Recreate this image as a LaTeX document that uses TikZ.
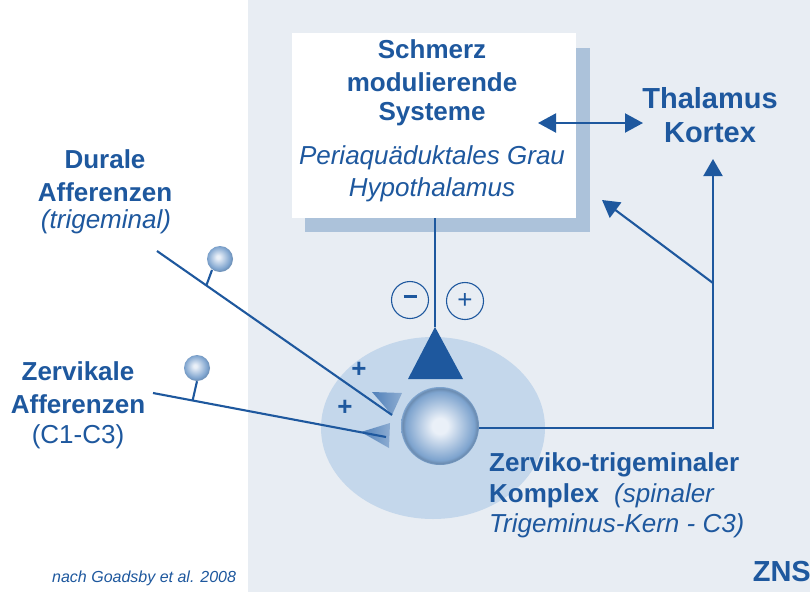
\documentclass[tikz,border=0pt]{standalone}
\usepackage{fontspec}
\setmainfont{Liberation Sans}
\usetikzlibrary{arrows.meta,calc}
\definecolor{tblue}{RGB}{30,88,158}
\definecolor{bgray}{RGB}{232,237,243}
\definecolor{shad}{RGB}{172,194,218}
\definecolor{ell}{RGB}{196,215,235}
\definecolor{midb}{RGB}{80,128,185}
\definecolor{sphc}{RGB}{234,240,248}
\definecolor{sphe}{RGB}{125,163,206}
\pgfdeclareradialshading{sphsh}{\pgfpoint{0bp}{0bp}}{color(0bp)=(sphc); color(5bp)=(sphc); color(22bp)=(sphe); color(24bp)=(sphe!85!black); color(25bp)=(sphe); color(50bp)=(sphe)}
\pgfdeclareradialshading{knobsh}{\pgfpoint{-4bp}{4bp}}{color(0bp)=(sphc); color(3bp)=(sphc); color(22bp)=(sphe); color(25bp)=(sphe!90!black); color(50bp)=(sphe)}
\begin{document}
\begin{tikzpicture}[x=1pt,y=-1pt,
  bt/.style={text=tblue,font=\fontsize{26}{33}\selectfont\bfseries,align=center,inner sep=0pt},
  it/.style={text=tblue,font=\fontsize{26}{33}\selectfont\itshape,align=center,inner sep=0pt},
  rt/.style={text=tblue,font=\fontsize{26}{33}\selectfont,align=center,inner sep=0pt},
  big/.style={text=tblue,font=\fontsize{29}{34}\selectfont\bfseries,align=center,inner sep=0pt},
  ln/.style={draw=tblue,line width=2.1pt},
  dbl/.style={ln,{Triangle[length=18pt,width=19pt]}-{Triangle[length=18pt,width=19pt]}},
  arr/.style={ln,-{Triangle[length=17pt,width=19pt]}},
  sign/.style={circle,draw=tblue,line width=1.1pt,minimum size=37pt,inner sep=0pt,text=tblue},
  knob/.style={circle,minimum size=26pt,inner sep=0pt,shading=knobsh}]
\useasboundingbox (0,0) rectangle (810,592);
\fill[white] (0,0) rectangle (810,592);
\fill[bgray] (248,0) rectangle (810,592);
% box shadow and box
\fill[shad] (305,48) rectangle (590,232);
\node[fill=white,minimum width=284pt,minimum height=185pt,inner sep=0pt] (box) at (434,125.5) {};
\node[bt] (s1) at (432,49) {Schmerz};
\node[bt] (s2) at (432,82) {modulierende};
\node[bt] (s3) at (432,114) {Systeme};
\node[it] (p1) at (432,158) {Periaquäduktales Grau};
\node[it] (p2) at (432,190) {Hypothalamus};
% thalamus
\node[big] (th) at (710,115) {Thalamus\\Kortex};
\coordinate (dl) at (538,123);
\coordinate (dr) at (643,123);
\draw[dbl] (dl) -- (dr);
% complex ellipse and sphere
\fill[ell] (433,428) ellipse[x radius=112,y radius=91];
\node[circle,minimum size=78pt,inner sep=0pt,shading=sphsh] (sph) at (440,426) {};
% descending line + big triangle
\coordinate (tapex) at (435,327);
\fill[tblue] (tapex) -- (463,379) -- (408,379) -- cycle;
\draw[ln] (box.south -| tapex) -- (tapex);
\node[sign] (minus) at (410,300) {\rule[7pt]{13pt}{3.4pt}};
\node[sign] (plus) at (465,301) {\fontsize{26}{26}\selectfont +};
% ascending lines
\coordinate (c1) at (713,428);
\coordinate (c2) at (713,283);
\coordinate (up) at (713,159);
\coordinate (diag) at (602,200);
\draw[ln] (sph.east |- c1) -- (c1) -- (c2);
\draw[arr] (c2) -- (up);
\draw[arr] (c2) -- (diag);
% afferents
\node[bt] (du) at (105,176) {Durale\\Afferenzen};
\node[it] (tr) at (106,222) {(trigeminal)};
\node[bt] (ze) at (78,388) {Zervikale\\Afferenzen};
\node[rt] (c13) at (78,437) {(C1-C3)};
\coordinate (d0) at (157,251);
\coordinate (d1) at (392,415);
\coordinate (z0) at (153,393);
\coordinate (z1) at (386,437);
\shade[left color=midb,right color=midb!65!white] (372,392) -- (402,393) -- (392,415) -- cycle;
\shade[left color=midb,right color=midb!65!white] (361,432) -- (390,423) -- (389,448) -- cycle;
\draw[ln] (d0) -- (d1);
\draw[ln] (z0) -- (z1);
\node[knob] (k1) at (220,259) {};
\draw[ln] (k1) ++(-8,11) -- ($(d0)!0.21!(d1)$);
\node[knob] (k2) at (197,368) {};
\draw[ln] (k2.south) -- ($(z0)!0.17!(z1)$);
\node[bt] (pl1) at (359,370) {+};
\node[bt] (pl2) at (345,408) {+};
% labels
\node[bt,anchor=west] (zk) at (489,465) {Zerviko-trigeminaler};
\node[bt,anchor=west] (ko) at (489,496) {Komplex};
\node[it,anchor=west] (sp) at (614,496) {(spinaler};
\node[it,anchor=west] (tk) at (489,526) {Trigeminus-Kern - C3)};
\node[big,anchor=east] (zns) at (811,572) {ZNS};
\node[text=tblue,font=\fontsize{16}{16}\selectfont\itshape,anchor=west,inner sep=0pt] (ref) at (52,578) {nach Goadsby et al. 2008};
\end{tikzpicture}
\end{document}
